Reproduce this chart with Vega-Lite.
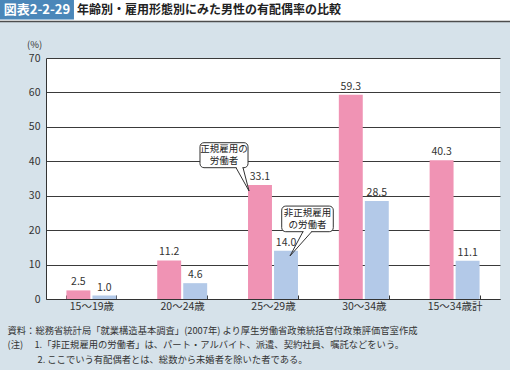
{
  "$schema": "https://vega.github.io/schema/vega-lite/v6.json",
  "width": 454,
  "height": 241,
  "autosize": {"type": "none"},
  "padding": {"left": 46, "top": 58, "right": 10, "bottom": 71},
  "background": "#d6e2ea",
  "config": {"view": {"fill": "white", "stroke": null}, "font": "Noto Sans CJK JP"},
  "layer": [
    {
      "data": {
        "values": [
          {"age": "15～19歳", "type": "正規雇用の労働者", "value": 2.5},
          {"age": "15～19歳", "type": "非正規雇用の労働者", "value": 1.0},
          {"age": "20～24歳", "type": "正規雇用の労働者", "value": 11.2},
          {"age": "20～24歳", "type": "非正規雇用の労働者", "value": 4.6},
          {"age": "25～29歳", "type": "正規雇用の労働者", "value": 33.1},
          {"age": "25～29歳", "type": "非正規雇用の労働者", "value": 14.0},
          {"age": "30～34歳", "type": "正規雇用の労働者", "value": 59.3},
          {"age": "30～34歳", "type": "非正規雇用の労働者", "value": 28.5},
          {"age": "15～34歳計", "type": "正規雇用の労働者", "value": 40.3},
          {"age": "15～34歳計", "type": "非正規雇用の労働者", "value": 11.1}
        ]
      },
      "encoding": {
        "x": {
          "field": "age", "type": "nominal", "sort": null,
          "scale": {"paddingInner": 0.45, "paddingOuter": 0.225},
          "axis": {
            "title": [
              "資料：総務省統計局「就業構造基本調査」(2007年) より厚生労働省政策統括官付政策評価官室作成",
              "(注)　 1.「非正規雇用の労働者」は、パート・アルバイト、派遣、契約社員、嘱託などをいう。",
              "\u200b　　\u2002\u2002 2. ここでいう有配偶者とは、総数から未婚者を除いた者である。"
            ],
            "titleX": -39, "titleY": 27, "titleAlign": "left", "titleBaseline": "top",
            "titleLineHeight": 14.5, "titleFontSize": 9.3, "titleFontWeight": "normal", "titleColor": "#333",
            "labelAngle": 0, "labelFontSize": 10.5, "labelColor": "#333", "labelPadding": 6,
            "domainColor": "#333", "tickBand": "extent", "tickSize": -4, "tickColor": "#333"
          }
        },
        "xOffset": {"field": "type", "type": "nominal", "sort": null, "scale": {"paddingInner": 0.08}},
        "y": {
          "field": "value", "type": "quantitative",
          "scale": {"domain": [0, 70], "nice": false},
          "axis": {
            "title": "(%)", "titleAngle": 0, "titleX": -12, "titleY": -14, "titleAlign": "center",
            "titleBaseline": "middle", "titleFontSize": 9.5, "titleFontWeight": "normal", "titleColor": "#333",
            "values": [0, 10, 20, 30, 40, 50, 60, 70],
            "grid": true, "gridColor": "#3a3a3a", "gridWidth": 1, "ticks": false,
            "labelPadding": 6, "labelFontSize": 10.5, "labelColor": "#333", "domainColor": "#333"
          }
        }
      },
      "layer": [
        {
          "mark": {"type": "bar"},
          "encoding": {
            "color": {"field": "type", "type": "nominal", "scale": {"range": ["#f093b4", "#b3c9e8"]}, "legend": null}
          }
        },
        {
          "mark": {"type": "text", "dy": -8, "fontSize": 10.5, "color": "#333"},
          "encoding": {"text": {"field": "value", "type": "quantitative", "format": ".1f"}}
        }
      ]
    },
    {
      "data": {"values": [{}]},
      "layer": [
        {
          "mark": {"type": "rect", "color": "white"},
          "encoding": {
            "x": {"datum": -0.51, "type": "quantitative", "scale": {"domain": [0, 5], "nice": false, "zero": false}, "axis": null},
            "x2": {"datum": 5.12},
            "y": {"datum": 86.9, "type": "quantitative", "scale": {"domain": [0, 70], "nice": false, "zero": false}, "axis": null},
            "y2": {"datum": 80.7}
          }
        },
        {
          "mark": {"type": "rule", "color": "#4d4d4d", "strokeWidth": 1.5},
          "encoding": {
            "x": {"datum": -0.51, "type": "quantitative"}, "x2": {"datum": 5.12},
            "y": {"datum": 80.6, "type": "quantitative"}
          }
        },
        {
          "mark": {"type": "rect", "color": "#4b87b9"},
          "encoding": {
            "x": {"datum": -0.51, "type": "quantitative"}, "x2": {"datum": 0.308},
            "y": {"datum": 86.9, "type": "quantitative"}, "y2": {"datum": 81.2}
          }
        },
        {
          "mark": {"type": "text", "text": "図表2-2-29", "color": "white", "fontWeight": "bold", "fontSize": 13, "align": "center", "baseline": "middle"},
          "encoding": {"x": {"datum": -0.099, "type": "quantitative"}, "y": {"datum": 83.9, "type": "quantitative"}}
        },
        {
          "mark": {"type": "text", "text": "年齢別・雇用形態別にみた男性の有配偶率の比較", "color": "#222", "fontWeight": "bold", "fontSize": 12, "align": "left", "baseline": "middle"},
          "encoding": {"x": {"datum": 0.341, "type": "quantitative"}, "y": {"datum": 83.9, "type": "quantitative"}}
        },
        {
          "mark": {"type": "rect", "fill": "white", "stroke": "#333", "strokeWidth": 1, "cornerRadius": 4},
          "encoding": {
            "x": {"datum": 1.696, "type": "quantitative"}, "x2": {"datum": 2.225},
            "y": {"datum": 45.4, "type": "quantitative"}, "y2": {"datum": 38.14}
          }
        },
        {
          "mark": {"type": "rule", "color": "white", "strokeWidth": 2.5},
          "encoding": {
            "x": {"datum": 2.099, "type": "quantitative"}, "x2": {"datum": 2.164},
            "y": {"datum": 38.14, "type": "quantitative"}
          }
        },
        {
          "mark": {"type": "rule", "color": "#333", "strokeWidth": 1},
          "encoding": {
            "x": {"datum": 2.093, "type": "quantitative"}, "x2": {"datum": 2.236},
            "y": {"datum": 38.14, "type": "quantitative"}, "y2": {"datum": 31.37}
          }
        },
        {
          "mark": {"type": "rule", "color": "#333", "strokeWidth": 1},
          "encoding": {
            "x": {"datum": 2.170, "type": "quantitative"}, "x2": {"datum": 2.236},
            "y": {"datum": 38.14, "type": "quantitative"}, "y2": {"datum": 31.37}
          }
        },
        {
          "mark": {"type": "text", "text": ["正規雇用の", "労働者"], "lineHeight": 12, "fontSize": 9.5, "color": "#222", "align": "center", "baseline": "top"},
          "encoding": {"x": {"datum": 1.960, "type": "quantitative"}, "y": {"datum": 44.9, "type": "quantitative"}}
        },
        {
          "mark": {"type": "rect", "fill": "white", "stroke": "#333", "strokeWidth": 1, "cornerRadius": 4},
          "encoding": {
            "x": {"datum": 2.596, "type": "quantitative"}, "x2": {"datum": 3.164},
            "y": {"datum": 26.99, "type": "quantitative"}, "y2": {"datum": 19.55}
          }
        },
        {
          "mark": {"type": "rule", "color": "white", "strokeWidth": 2.5},
          "encoding": {
            "x": {"datum": 2.836, "type": "quantitative"}, "x2": {"datum": 2.920},
            "y": {"datum": 19.55, "type": "quantitative"}
          }
        },
        {
          "mark": {"type": "rule", "color": "#333", "strokeWidth": 1},
          "encoding": {
            "x": {"datum": 2.830, "type": "quantitative"}, "x2": {"datum": 2.687},
            "y": {"datum": 19.55, "type": "quantitative"}, "y2": {"datum": 12.49}
          }
        },
        {
          "mark": {"type": "rule", "color": "#333", "strokeWidth": 1},
          "encoding": {
            "x": {"datum": 2.926, "type": "quantitative"}, "x2": {"datum": 2.687},
            "y": {"datum": 19.55, "type": "quantitative"}, "y2": {"datum": 12.49}
          }
        },
        {
          "mark": {"type": "text", "text": ["非正規雇用", "の労働者"], "lineHeight": 12, "fontSize": 9.5, "color": "#222", "align": "center", "baseline": "top"},
          "encoding": {"x": {"datum": 2.880, "type": "quantitative"}, "y": {"datum": 26.5, "type": "quantitative"}}
        }
      ]
    }
  ],
  "resolve": {"scale": {"x": "independent", "y": "independent"}}
}
